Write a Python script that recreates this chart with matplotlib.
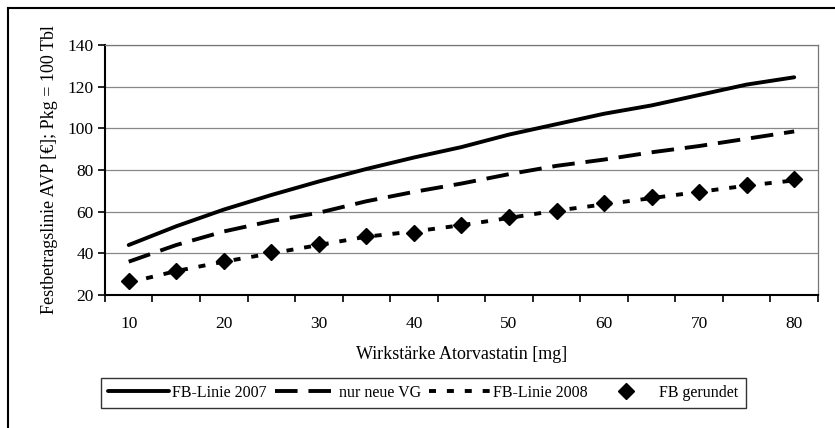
import numpy as np
import matplotlib
matplotlib.use("Agg")
import matplotlib.pyplot as plt
from matplotlib.lines import Line2D

plt.rcParams['font.family'] = ['Liberation Serif', 'DejaVu Serif']

# data
staerke = [10, 15, 20, 25, 30, 35, 40, 45, 50, 55, 60, 65, 70, 75, 80]
fb_2007 = [44, 53, 61, 68, 74.5, 80.5, 86, 91, 97, 102, 107, 111, 116, 121, 124.5]
neue_vg = [36, 44, 50.5, 55.5, 59.5, 65, 69.5, 73.5, 78, 82, 85, 88.5, 91.5, 95, 98.5]
fb_2008 = [26, 31.5, 36, 40, 44, 48, 50.5, 53.5, 57, 60.5, 63.5, 66.5, 69.5, 72.5, 75]
fb_gerundet = [26.5, 31.5, 36.5, 40.5, 44.5, 48.5, 50, 53.5, 57.5, 60.5, 64, 67, 69.5, 73, 75.5]

fig = plt.figure(figsize=(8.35, 4.28), dpi=100)
ax = fig.add_axes([0.1257, 0.3107, 0.8539, 0.5842])

x = np.arange(len(staerke))
ax.plot(x, fb_2007, color='black', lw=2.8, solid_capstyle='round',
        label='FB-Linie 2007')
ax.plot(x, neue_vg, color='black', lw=2.8, dashes=(5.8, 2.8),
        label='nur neue VG')
ax.plot(x, fb_2008, color='black', lw=2.8, dashes=(1.8, 2.8),
        label='FB-Linie 2008')
ax.plot(x, fb_gerundet, linestyle='none', marker='D', markersize=8,
        color='black', label='FB gerundet')

ax.set_xlim(-0.5, len(staerke) - 0.5)
ax.set_ylim(20, 140)
ax.set_yticks(np.arange(20, 141, 20))
ax.set_xticks(x[::2])
ax.set_xticklabels([str(v) for v in staerke[::2]])
ax.set_xticks(np.arange(-0.5, len(staerke), 1), minor=True)
ax.tick_params(axis='x', which='major', length=0, pad=15, labelsize=12.5)
ax.tick_params(axis='x', which='minor', length=5, width=1.2, direction='out')
ax.tick_params(axis='y', length=5, width=1.2, labelsize=12.5, pad=3)

ax.yaxis.grid(True, color='#888888', lw=0.9)
ax.set_axisbelow(True)
for s in ['top', 'right']:
    ax.spines[s].set_color('#777777')
    ax.spines[s].set_linewidth(0.9)
for s in ['left', 'bottom']:
    ax.spines[s].set_linewidth(1.5)

ax.set_xlabel('Wirkstärke Atorvastatin [mg]', fontsize=13, labelpad=10)
ax.set_ylabel('Festbetragslinie AVP [€]; Pkg = 100 Tbl', fontsize=13, labelpad=7)

leg = fig.legend(loc='center', bbox_to_anchor=(0.507, 0.082), ncol=4,
                 fontsize=11.5, frameon=True, fancybox=False, edgecolor='black',
                 handlelength=3.8, handletextpad=0.2, columnspacing=0.5,
                 borderpad=0.45)
leg.get_frame().set_linewidth(1.0)

# outer frame (top and left edges visible in the scan)
fig.add_artist(Line2D([0.0096, 1.0], [0.981, 0.981], color='black', lw=1.5,
                      transform=fig.transFigure))
fig.add_artist(Line2D([0.0096, 0.0096], [0.0, 0.981], color='black', lw=1.5,
                      transform=fig.transFigure))

fig.savefig('out.png', dpi=100)
